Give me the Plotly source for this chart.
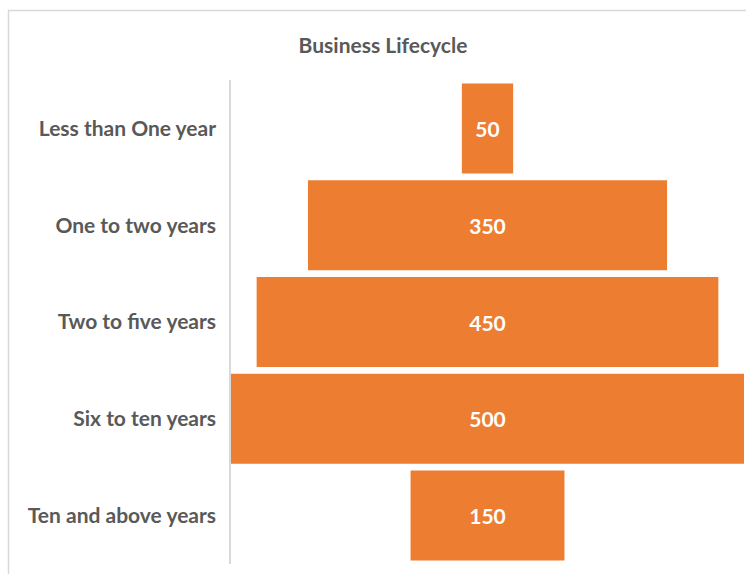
import plotly.graph_objects as go

categories = ["Less than One year", "One to two years", "Two to five years",
              "Six to ten years", "Ten and above years"]
values = [50, 350, 450, 500, 150]

W, H = 746, 574
ML, MR, MT, MB = 231, 2, 80, 10
pw = W - ML - MR
ph = H - MT - MB

def px_to_paper_x(px):
    return (px - ML) / pw

def px_to_paper_y(py):
    return (H - MB - py) / ph

fig = go.Figure(go.Funnel(
    y=categories,
    x=values,
    textinfo="value",
    textposition="inside",
    insidetextanchor="middle",
    textangle=0,
    constraintext="none",
    textfont=dict(color="white", size=21, family="Lato", weight="bold"),
    marker=dict(color="#ED7D31", line=dict(width=0)),
    connector=dict(visible=False),
    hoverinfo="y+x",
))

fig.update_layout(
    width=W, height=H,
    margin=dict(l=ML, r=MR, t=MT, b=MB, pad=0),
    paper_bgcolor="white",
    plot_bgcolor="white",
    funnelgap=0.07,
    showlegend=False,
    title=dict(text="<b>Business Lifecycle</b>", x=px_to_paper_x(383), xref="paper",
               xanchor="center", y=1 - 46 / H, yanchor="middle",
               font=dict(size=21, color="#595959", family="Lato")),
    font=dict(family="Lato", color="#595959"),
    xaxis=dict(range=[-250, 250], visible=False, fixedrange=True),
    yaxis=dict(showline=True, linecolor="#D9D9D9", linewidth=1.5,
               ticks="", ticklabelstandoff=9,
               tickfont=dict(size=21, color="#595959", family="Lato", weight="bold"),
               showgrid=False, zeroline=False),
    shapes=[
        dict(type="line", xref="paper", yref="paper",
             x0=px_to_paper_x(8), x1=px_to_paper_x(760),
             y0=px_to_paper_y(10.5), y1=px_to_paper_y(10.5),
             line=dict(color="#D9D9D9", width=1.5), layer="below"),
        dict(type="line", xref="paper", yref="paper",
             x0=px_to_paper_x(8.5), x1=px_to_paper_x(8.5),
             y0=px_to_paper_y(10.5), y1=px_to_paper_y(580),
             line=dict(color="#D9D9D9", width=1.5), layer="below"),
    ],
)

fig.write_html("out.html")
